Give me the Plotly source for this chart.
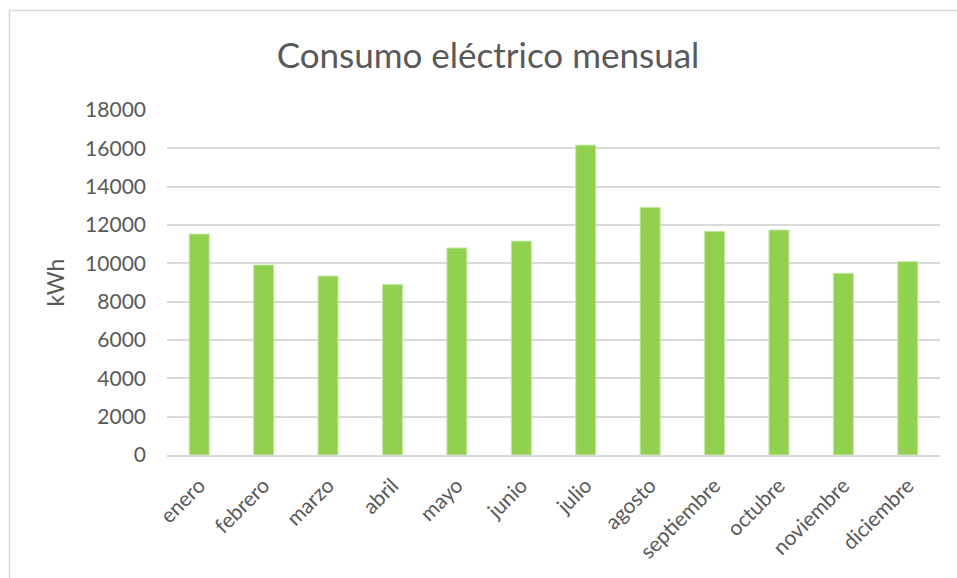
import plotly.graph_objects as go

# Monthly electricity consumption (kWh)
meses = ["enero", "febrero", "marzo", "abril", "mayo", "junio", "julio",
         "agosto", "septiembre", "octubre", "noviembre", "diciembre"]
consumo_kwh = [11530, 9910, 9340, 8900, 10800, 11160, 16170,
               12920, 11670, 11740, 9480, 10090]
y_ticks = [0, 2000, 4000, 6000, 8000, 10000, 12000, 14000, 16000, 18000]

W, H = 957, 578
M_L, M_R, M_T, M_B = 167, 17, 110, 123
FONT = "Lato, Calibri, Carlito, sans-serif"
TEXT = "#595959"

fig = go.Figure(
    go.Bar(
        x=meses,
        y=consumo_kwh,
        marker=dict(color="#92D050", line=dict(color="#C5E7A4", width=1)),
        hoverinfo="x+y",
    )
)

pw = W - M_L - M_R
ph = H - M_T - M_B

fig.update_layout(
    width=W,
    height=H,
    margin=dict(l=M_L, r=M_R, t=M_T, b=M_B),
    paper_bgcolor="white",
    plot_bgcolor="white",
    bargap=0.69,
    showlegend=False,
    font=dict(family=FONT, color=TEXT),
    title=dict(
        text="Consumo eléctrico mensual",
        x=488 / W, xref="container", xanchor="center",
        y=1 - 56 / H, yref="container", yanchor="middle",
        font=dict(size=35, family=FONT, color=TEXT),
    ),
    xaxis=dict(
        tickangle=-45,
        tickfont=dict(size=21, family=FONT, color=TEXT),
        showgrid=False,
        showline=True,
        linecolor="#D9D9D9",
        linewidth=2,
        ticks="",
        ticklabelstandoff=8,
    ),
    yaxis=dict(
        range=[0, 18000],
        tickvals=y_ticks,
        ticktext=[str(v) for v in y_ticks],
        tickfont=dict(size=21, family=FONT, color=TEXT),
        showgrid=True,
        gridcolor="#D9D9D9",
        gridwidth=2,
        zeroline=False,
        ticks="",
        ticklabelstandoff=20,
        title=dict(text="kWh", font=dict(size=23, family=FONT, color=TEXT), standoff=14),
    ),
    shapes=[
        dict(
            type="rect", xref="paper", yref="paper", layer="below",
            x0=(9.5 - M_L) / pw, x1=(W + 20 - M_L) / pw,
            y0=(H - M_B - (H + 20)) / ph, y1=(H - M_B - 10.5) / ph,
            line=dict(color="#D9D9D9", width=1.5),
            fillcolor="rgba(0,0,0,0)",
        )
    ],
)

fig.write_html("out.html")
